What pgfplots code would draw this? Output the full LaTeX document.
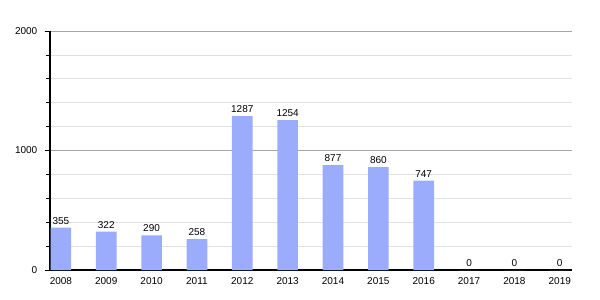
\documentclass[border=0pt]{standalone}
\usepackage{pgfplots}
\pgfplotsset{compat=1.18}
\usepackage{fontspec}
\setmainfont{Liberation Sans}
\definecolor{barblue}{RGB}{155,172,252}
\begin{document}
\begin{tikzpicture}[x=1pt,y=1pt]
\begin{axis}[
  at={(0,0)}, anchor=south west,
  scale only axis,
  width=391.5pt, height=179.25pt,
  xmin=-0.24, xmax=11.27,
  ymin=0, ymax=2000,
  axis x line*=bottom, axis y line*=left,
  axis line style={black, line width=0.8pt},
  xtick={0,...,11},
  xticklabels={2008,2009,2010,2011,2012,2013,2014,2015,2016,2017,2018,2019},
  x tick style={draw=none},
  ytick={0,1000,2000},
  minor ytick={200,400,600,800,1200,1400,1600,1800},
  ymajorgrids, yminorgrids,
  major grid style={draw=black!35, line width=0.6pt},
  minor grid style={draw=black!12, line width=0.6pt},
  y tick style={black, line width=0.5pt},
  major tick length=4pt, minor tick length=3pt,
  tick align=outside,
  tick label style={font=\fontsize{7.5}{8}\selectfont},
  /pgf/number format/assume math mode=true,
  /pgf/number format/1000 sep={},
  yticklabel style={xshift=-2pt},
  xticklabel style={yshift=2pt},
  ybar, bar width=15.5pt,
  nodes near coords,
  nodes near coords style={font=\fontsize{7.5}{8}\selectfont, black, yshift=-1pt, /pgf/number format/1000 sep={}},
  clip=false,
]
\addplot[fill=barblue, draw=none] coordinates {
(0,355) (1,322) (2,290) (3,258) (4,1287) (5,1254) (6,877) (7,860) (8,747) (9,0) (10,0) (11,0)};
\end{axis}
\pgfresetboundingbox
\useasboundingbox (-37.5,-22.5) rectangle (412.5,202.5);
\end{tikzpicture}
\end{document}
